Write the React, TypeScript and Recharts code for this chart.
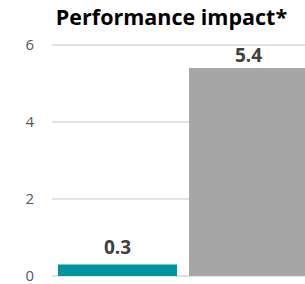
import React from "react";
import { BarChart, Bar, XAxis, YAxis, CartesianGrid, Cell, LabelList } from "recharts";

const categories = ["Solution A", "Solution B"];
const impactValues = [0.3, 5.4];
const yTicks = [0, 2, 4, 6];
const title = "Performance impact*";

const barColors = ["#00959E", "#A6A6A6"];
const labelOffsets = [10, 6];

const data = categories.map((name, i) => ({ name, value: impactValues[i] }));

const renderLabel = (props: any) => {
  const { x, y, width, value, index } = props;
  return (
    <text
      x={x + width / 2}
      y={y - labelOffsets[index ?? 0]}
      textAnchor="middle"
      fill="#404040"
      fontFamily="'Open Sans', sans-serif"
      fontWeight={700}
      fontSize={19}
    >
      {value}
    </text>
  );
};

export default function App() {
  return (
    <div
      style={{
        position: "absolute",
        left: 0,
        top: 0,
        width: 305,
        height: 284,
        overflow: "hidden",
        background: "#ffffff",
      }}
    >
      <div
        style={{
          position: "absolute",
          left: 0,
          top: 2,
          width: 343,
          textAlign: "center",
          fontFamily: "'Open Sans', sans-serif",
          fontWeight: 700,
          fontSize: 21.5,
          lineHeight: "30px",
          color: "#000000",
          whiteSpace: "nowrap",
        }}
      >
        {title}
      </div>
      <BarChart
        width={314}
        height={284}
        data={data}
        margin={{ top: 45, right: 0, bottom: 8, left: 0 }}
        barCategoryGap={6}
      >
        <CartesianGrid vertical={false} stroke="#d9d9d9" strokeWidth={1.5} />
        <XAxis
          dataKey="name"
          tick={false}
          tickLine={false}
          height={0}
          axisLine={{ stroke: "#d0d0d0", strokeWidth: 2 }}
        />
        <YAxis
          domain={[0, 6]}
          ticks={yTicks}
          interval={0}
          width={52}
          axisLine={false}
          tickLine={false}
          tickSize={0}
          tickMargin={18}
          tick={{ fill: "#595959", fontSize: 15, fontFamily: "'Open Sans', sans-serif" }}
        />
        <Bar dataKey="value" isAnimationActive={false}>
          {data.map((d, i) => (
            <Cell key={d.name} fill={barColors[i]} />
          ))}
          <LabelList dataKey="value" content={renderLabel} />
        </Bar>
      </BarChart>
    </div>
  );
}
